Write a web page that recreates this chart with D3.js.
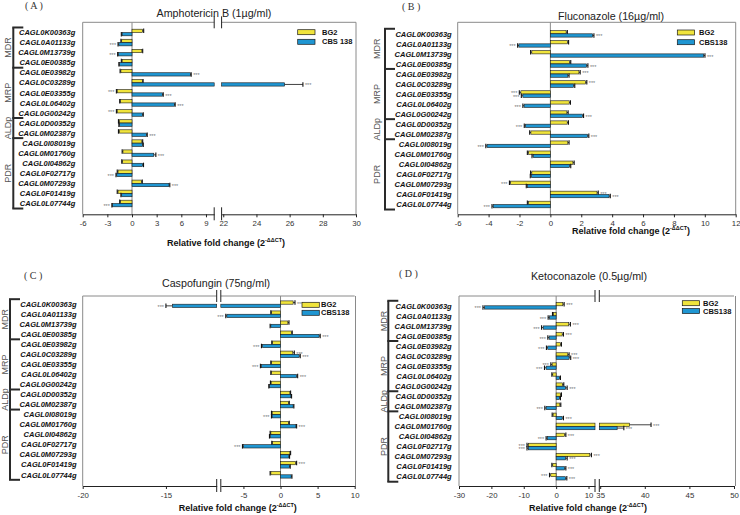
<!DOCTYPE html>
<html><head><meta charset="utf-8">
<script src="https://cdn.jsdelivr.net/npm/d3@7"></script>
<style>body{margin:0;background:#fff}svg{display:block}</style>
</head><body>
<svg id="chart" width="740" height="515"></svg>
<script>
// ---------- DATA ----------
const genes = ["CAGL0K00363g","CAGL0A01133g","CAGL0M13739g","CAGL0E00385g",
  "CAGL0E03982g","CAGL0C03289g","CAGL0E03355g","CAGL0L06402g","CAGL0G00242g",
  "CAGL0D00352g","CAGL0M02387g",
  "CAGL0I08019g","CAGL0M01760g","CAGL0I04862g","CAGL0F02717g","CAGL0M07293g","CAGL0F01419g","CAGL0L07744g"];
const groupNames = ["MDR","MRP","ALDp","PDR"];
const groupSizes = [4,5,2,7];

// Amphotericin B
const ampBG2 = [1.27,-1.25,1.2,-1.2,-1.35,1.25,-1.8,-1.4,-1.8,-1.55,-1.55,1.2,-1.1,-1.15,-1.7,1.15,-1.7,-1.4];
const ampCBS = [-1.2,-1.6,-1.65,-1.5,7.1,25.7,3.7,5.15,1.27,-1.5,1.75,1.27,2.65,1.3,-1.85,4.5,-1.25,-2.35];
const ampBG2Err = [0.15,0.1,0.1,0.1,0.1,0.1,0.1,0.1,0.1,0.1,0.1,0.1,0.1,0.1,0.1,0.1,0.1,0.1];
const ampCBSErr = [0.1,0.1,0.1,0.1,0.1,1.1,0.1,0.1,0.1,0.1,0.1,0.1,0.25,0.1,0.1,0.1,0.1,0.1];
const ampBG2Sig = [0,0,0,0,0,0,1,0,1,0,0,0,0,0,0,0,0,0];
const ampCBSSig = [0,1,1,0,1,1,1,1,0,0,1,0,1,0,1,1,0,1];

// Fluconazole
const fluBG2 = [1.02,1.1,-1.2,1.24,1.85,2.28,-1.91,1.22,1.07,1.09,-1.26,1.13,-1.41,1.46,-1.2,-2.57,3.02,-1.41];
const fluCBS = [2.74,-2.04,9.93,2.35,1.13,1.5,-1.78,-1.7,2.07,-1.61,2.41,-4.1,-1.11,1.24,-1.22,-1.48,3.8,-3.7];
const fluBG2Err = [0.08,0.08,0.08,0.08,0.08,0.08,0.1,0.08,0.08,0.08,0.08,0.08,0.08,0.08,0.08,0.08,0.08,0.08];
const fluCBSErr = [0.08,0.08,0.08,0.08,0.08,0.08,0.1,0.08,0.08,0.08,0.08,0.08,0.08,0.08,0.08,0.08,0.08,0.08];
const fluBG2Sig = [0,0,0,0,1,1,1,0,0,0,0,0,0,0,0,1,1,0];
const fluCBSSig = [1,1,1,1,0,0,1,1,1,1,1,1,0,0,0,0,1,1];

// Caspofungin
const casBG2 = [1.7,-1.21,0.99,1.48,-1.08,1.66,-1.21,-1.21,-1.26,1.26,1.08,-1.12,1.08,-1.3,-1.08,1.26,2.02,-1.3];
const casCBS = [-14.6,-7.23,-1.3,5.2,-2.42,2.51,-2.56,2.16,-1.48,1.39,1.7,-1.12,2.07,-1.39,-4.98,1.12,1.21,1.44];
const casBG2Err = [0.25,0.1,0.15,0.1,0.1,0.2,0.1,0.1,0.1,0.1,0.1,0.1,0.1,0.1,0.1,0.1,0.15,0.1];
const casCBSErr = [0.4,0.15,0.1,0.15,0.15,0.15,0.15,0.15,0.1,0.1,0.1,0.1,0.1,0.1,0.15,0.1,0.1,0.1];
const casBG2Sig = [1,0,0,0,0,1,0,0,0,0,0,0,0,0,0,0,1,0];
const casCBSSig = [1,1,0,1,1,1,1,1,0,0,0,1,1,0,1,0,0,0];

// Ketoconazole
const ketBG2 = [2.07,-0.83,3.9,1.86,1.34,3.6,-1.24,-1.03,1.96,1.34,1.14,-0.93,38.3,2.6,-8.6,10.4,-1.03,-1.65];
const ketCBS = [-22.1,-2.07,-4.0,-2.17,-2.6,4.0,-3.1,1.03,2.9,1.03,-3.1,1.86,36.9,-2.7,-8.6,2.9,2.6,2.9];
const ketBG2Err = [0.4,0.3,0.5,0.4,0.3,0.4,0.4,0.3,0.4,0.3,0.3,0.3,2.4,0.4,0.4,0.5,0.3,0.4];
const ketCBSErr = [0.5,0.4,0.5,0.4,0.4,0.5,0.5,0.3,0.5,0.3,0.4,0.4,0.75,0.4,0.4,0.5,0.4,0.4];
const ketBG2Sig = [1,0,1,1,0,1,1,0,0,0,0,0,1,1,1,1,0,1];
const ketCBSSig = [1,1,1,1,1,1,1,0,1,0,1,1,1,1,1,1,1,1];

const titles = ["Amphotericin B (1µg/ml)","Fluconazole (16µg/ml)","Caspofungin (75ng/ml)","Ketoconazole (0.5µg/ml)"];
const letters = ["( A )","( B )","( C )","( D )"];
const legendLabels = [["BG2","CBS 138"],["BG2","CBS138"],["BG2","CBS138"],["BG2","CBS138"]];
const axisDomains = [
  [[-6,10],[21.9,30]],
  [[-6,12]],
  [[-20,-11.95],[-8.05,10]],
  [[-30,12],[34.9,50]]
];
const tickValues = [
  [-6,-3,0,3,6,9,22,24,26,28,30],
  [-6,-4,-2,0,2,4,6,8,10,12],
  [-20,-15,-5,0,5,10],
  [-30,-20,-10,0,10,35,40,45,50]
];

// ---------- LAYOUT ----------
const YELLOW = "#f0e43c", BLUE = "#1f96d2";
const FONT = "'Liberation Sans', Arial, sans-serif";
const layouts = [
  {ranges:[[82.7,214.2],[221.6,356]], left:82.7, right:356, top:22.3, bottom:214.3,
   rowFirst:32.5, rowLast:203.5, labelRight:75.3, bracketX:13.3, groupLabelX:8.3,
   titleX:214, titleY:17, letterX:25, letterY:9, axTX:226, axTY:246,
   legX:297.7, legY1:29.7, legY2:39.3, legTX:322},
  {ranges:[[457.7,735.7]], left:457.7, right:735.7, top:22.3, bottom:214.3,
   rowFirst:33.8, rowLast:204.5, labelRight:451.7, bracketX:385, groupLabelX:377,
   titleX:611, titleY:20, letterX:402, letterY:10, axTX:631, axTY:234,
   legX:677.3, legY1:30, legY2:39.7, legTX:699},
  {ranges:[[82.7,216.7],[220.8,354.7]], left:82.7, right:355.5, top:296, bottom:486,
   rowFirst:304.2, rowLast:474.8, labelRight:76.5, bracketX:10, groupLabelX:5,
   titleX:216, titleY:287, letterX:24, letterY:279, axTX:237.7, axTY:511,
   legX:302, legY1:302.3, legY2:310.3, legTX:321},
  {ranges:[[459,595],[599.3,734]], left:459, right:735.5, top:296, bottom:486,
   rowFirst:305.8, rowLast:476.7, labelRight:451.7, bracketX:388.3, groupLabelX:383.5,
   titleX:589, titleY:280, letterX:399, letterY:277, axTX:588, axTY:511,
   legX:682.3, legY1:300.7, legY2:308.5, legTX:703}
];
const panelData = [
  {bg2:ampBG2, cbs:ampCBS, bg2Err:ampBG2Err, cbsErr:ampCBSErr, bg2Sig:ampBG2Sig, cbsSig:ampCBSSig},
  {bg2:fluBG2, cbs:fluCBS, bg2Err:fluBG2Err, cbsErr:fluCBSErr, bg2Sig:fluBG2Sig, cbsSig:fluCBSSig},
  {bg2:casBG2, cbs:casCBS, bg2Err:casBG2Err, cbsErr:casCBSErr, bg2Sig:casBG2Sig, cbsSig:casCBSSig},
  {bg2:ketBG2, cbs:ketCBS, bg2Err:ketBG2Err, cbsErr:ketCBSErr, bg2Sig:ketBG2Sig, cbsSig:ketCBSSig}
];

const svg = d3.select("#chart");

function drawPanel(i) {
  const L = layouts[i], D = panelData[i];
  const g = svg.append("g");
  const segs = axisDomains[i].map((dom, k) => d3.scaleLinear().domain(dom).range(L.ranges[k]));
  const xAt = v => {
    for (const s of segs) { const [a,b] = s.domain(); if (v >= a - 1e-9 && v <= b + 1e-9) return s(v); }
    return v < segs[0].domain()[0] ? segs[0](v) : segs[segs.length-1](v);
  };
  const step = (L.rowLast - L.rowFirst) / (genes.length - 1);
  const y = d3.scaleBand().domain(genes).range([L.rowFirst - step/2, L.rowLast + step/2]);
  const bh = 3.3;

  // frame
  const gray = "#8a8a8a";
  segs.forEach(s => {
    g.append("line").attr("x1", s.range()[0]).attr("x2", s.range()[1])
      .attr("y1", L.top).attr("y2", L.top).attr("stroke", gray).attr("stroke-width", 1);
  });
  g.append("line").attr("x1", L.left).attr("x2", L.left).attr("y1", L.top).attr("y2", L.bottom).attr("stroke", gray);
  g.append("line").attr("x1", L.right).attr("x2", L.right).attr("y1", L.top).attr("y2", L.bottom).attr("stroke", gray);
  g.append("line").attr("x1", xAt(0)).attr("x2", xAt(0)).attr("y1", L.top).attr("y2", L.bottom).attr("stroke", gray);

  // axes per segment
  segs.forEach(s => {
    const [a,b] = s.domain();
    const tv = tickValues[i].filter(t => t >= a - 1e-9 && t <= b + 1e-9);
    const ax = g.append("g").attr("transform", `translate(0,${L.bottom})`)
      .call(d3.axisBottom(s).tickValues(tv).tickSize(3).tickSizeOuter(0).tickPadding(3).tickFormat(d => String(d)));
    ax.select(".domain").attr("stroke", "#222");
    ax.selectAll(".tick line").attr("stroke", "#222");
    ax.selectAll("text").attr("font-family", FONT).attr("font-size", 7.8).attr("fill", "#333");
  });

  // break marks
  for (let k = 0; k < segs.length - 1; k++) {
    [segs[k].range()[1], segs[k+1].range()[0]].forEach(bx => {
      g.append("line").attr("x1", bx).attr("x2", bx).attr("y1", L.top - 6).attr("y2", L.top + 6).attr("stroke", "#222");
      g.append("line").attr("x1", bx).attr("x2", bx).attr("y1", L.bottom - 7).attr("y2", L.bottom + 6).attr("stroke", "#222");
    });
  }

  // bars
  const series = [
    {vals:D.bg2, err:D.bg2Err, sig:D.bg2Sig, color:YELLOW, off:-bh},
    {vals:D.cbs, err:D.cbsErr, sig:D.cbsSig, color:BLUE, off:0}
  ];
  series.forEach(se => {
    genes.forEach((gn, j) => {
      const v = se.vals[j];
      const yc = y(gn) + y.bandwidth()/2 + se.off;
      const lo0 = Math.min(0, v), hi0 = Math.max(0, v);
      segs.forEach(s => {
        const [a,b] = s.domain();
        const lo = Math.max(lo0, a), hi = Math.min(hi0, b);
        if (hi > lo) {
          g.append("rect").attr("x", s(lo)).attr("y", yc).attr("width", s(hi) - s(lo)).attr("height", bh)
            .attr("fill", se.color).attr("stroke", "#1a1a1a").attr("stroke-width", 0.6);
        }
      });
      const sign = v < 0 ? -1 : 1;
      const xe = xAt(v + sign * se.err[j]);
      g.append("line").attr("x1", xAt(v)).attr("x2", xe).attr("y1", yc + bh/2).attr("y2", yc + bh/2)
        .attr("stroke", "#111").attr("stroke-width", 0.8);
      g.append("line").attr("x1", xe).attr("x2", xe).attr("y1", yc - 0.6).attr("y2", yc + bh + 0.6)
        .attr("stroke", "#111").attr("stroke-width", 1.1);
      if (se.sig[j]) {
        g.append("text").attr("x", xe + sign * 2).attr("y", yc + bh/2 + 3)
          .attr("text-anchor", sign < 0 ? "end" : "start")
          .attr("font-family", FONT).attr("font-size", 5.5).attr("fill", "#777").text("***");
      }
    });
  });

  // gene labels
  g.selectAll(".gl").data(genes).enter().append("text")
    .attr("x", L.labelRight).attr("y", d => y(d) + y.bandwidth()/2 + 2.7)
    .attr("text-anchor", "end").attr("font-family", FONT).attr("font-size", 7.5)
    .attr("font-weight", "bold").attr("font-style", "italic").attr("fill", "#111").text(d => d);

  // group brackets
  const y0 = y.range()[0], y1 = y.range()[1];
  g.append("line").attr("x1", L.bracketX).attr("x2", L.bracketX).attr("y1", y0).attr("y2", y1)
    .attr("stroke", "#2a2a2a").attr("stroke-width", 2);
  let idx = 0;
  const bounds = [y0];
  groupSizes.forEach(n => { idx += n; bounds.push(idx < genes.length ? y(genes[idx]) : y1); });
  bounds.forEach(b => {
    g.append("line").attr("x1", L.bracketX - 1).attr("x2", L.bracketX + 10).attr("y1", b).attr("y2", b)
      .attr("stroke", "#2a2a2a").attr("stroke-width", 2);
  });
  groupNames.forEach((nm, k) => {
    const cy = (bounds[k] + bounds[k+1]) / 2;
    g.append("text").attr("transform", `translate(${L.groupLabelX + 3},${cy}) rotate(-90)`)
      .attr("text-anchor", "middle").attr("font-family", FONT).attr("font-size", 9).attr("fill", "#555").text(nm);
  });

  // title, letter, axis title
  g.append("text").attr("x", L.titleX).attr("y", L.titleY).attr("text-anchor", "middle")
    .attr("font-family", FONT).attr("font-size", 10.7).attr("fill", "#222").text(titles[i]);
  g.append("text").attr("x", L.letterX).attr("y", L.letterY)
    .attr("font-family", "'Liberation Serif', 'Times New Roman', serif").attr("font-size", 10).attr("fill", "#333").text(letters[i]);
  const at = g.append("text").attr("x", L.axTX).attr("y", L.axTY).attr("text-anchor", "middle")
    .attr("font-family", FONT).attr("font-size", 9).attr("font-weight", "bold").attr("fill", "#111");
  at.append("tspan").text("Relative fold change (2");
  at.append("tspan").attr("font-size", 5.5).attr("dy", -4).text("-ΔΔCT");
  at.append("tspan").attr("dy", 4).text(")");

  // legend
  [[YELLOW, L.legY1, legendLabels[i][0]], [BLUE, L.legY2, legendLabels[i][1]]].forEach(([c, ly, lab]) => {
    g.append("rect").attr("x", L.legX).attr("y", ly).attr("width", 17.3).attr("height", 5)
      .attr("fill", c).attr("stroke", "#1a1a1a").attr("stroke-width", 0.7);
    g.append("text").attr("x", L.legTX).attr("y", ly + 5).attr("font-family", FONT).attr("font-size", 7.5)
      .attr("font-weight", "bold").attr("fill", "#111").text(lab);
  });
}
[0,1,2,3].forEach(drawPanel);
</script>
</body></html>
